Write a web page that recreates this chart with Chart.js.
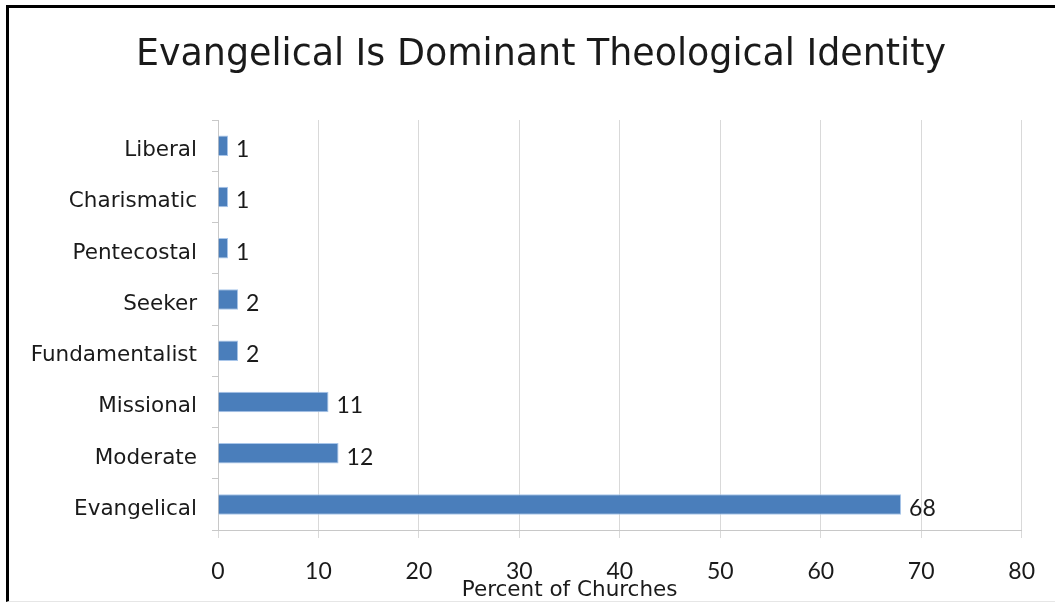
<!DOCTYPE html>
<html>
<head>
<meta charset="utf-8">
<script src="https://cdn.jsdelivr.net/npm/chart.js@4.4.1/dist/chart.umd.min.js"></script>
<style>
    html, body { margin: 0; padding: 0; background: #fff; }
    #wrap { position: relative; width: 1055px; height: 603px; }
    #frame {
        position: absolute; left: 6px; top: 5px; right: 0; bottom: 1px;
        border-left: 3px solid #000; border-top: 3px solid #000;
        border-bottom: 1px solid #e6e6e6;
        pointer-events: none;
    }
    canvas { position: absolute; left: 0; top: 0; }
</style>
</head>
<body>
<div id="wrap">
    <canvas id="chart" width="1055" height="603"></canvas>
    <div id="frame"></div>
</div>
<script>
// theological identity survey
const categories = ['Liberal', 'Charismatic', 'Pentecostal', 'Seeker', 'Fundamentalist', 'Missional', 'Moderate', 'Evangelical'];
const percents = [1, 1, 1, 2, 2, 11, 12, 68];
const xTicks = [0, 10, 20, 30, 40, 50, 60, 70, 80];

const chartTitle = 'Evangelical Is Dominant Theological Identity';
const xAxisTitle = 'Percent of Churches';

const numFont = "Lato, 'Open Sans', sans-serif";
const textFont = "'DejaVu Sans', Verdana, sans-serif";

const padLeft = 14;

// value next to each bar end
const valueLabels = {
    id: 'valueLabels',
    afterDatasetsDraw(chart) {
        const ctx = chart.ctx;
        const meta = chart.getDatasetMeta(0);
        ctx.save();
        ctx.font = '23px ' + numFont;
        ctx.fillStyle = '#1a1a1a';
        ctx.textAlign = 'left';
        ctx.textBaseline = 'middle';
        meta.data.forEach((bar, i) => {
            ctx.fillText(String(percents[i]), bar.x + 8, bar.y + 4);
        });
        ctx.restore();
    }
};

// heading and axis title, both placed by hand
const titles = {
    id: 'titles',
    afterDraw(chart) {
        const ctx = chart.ctx;
        ctx.save();
        ctx.fillStyle = '#1a1a1a';
        ctx.textAlign = 'center';
        ctx.textBaseline = 'middle';
        ctx.font = '36.4px ' + textFont;
        ctx.fillText(chartTitle, 541, 56);
        // sits under the 35 mark, a bit left of centre
        ctx.font = '21.5px ' + textFont;
        ctx.fillText(xAxisTitle, chart.scales.x.getPixelForValue(35), 590);
        ctx.restore();
    }
};

const ctx = document.getElementById('chart');

new Chart(ctx, {
    type: 'bar',
    data: {
        labels: categories,
        datasets: [{
            data: percents,
            backgroundColor: '#4a7ebb',
            borderColor: '#a9c6ea',
            borderWidth: 1,
            barPercentage: 0.4,
            categoryPercentage: 1.0
        }]
    },
    options: {
        indexAxis: 'y',
        responsive: false,
        animation: false,
        layout: { padding: { left: padLeft, right: 33, top: 120, bottom: 0 } },
        plugins: {
            legend: { display: false },
            tooltip: { enabled: false },
            title: { display: false }
        },
        scales: {
            x: {
                min: 0,
                max: 80,
                afterBuildTicks(scale) {
                    scale.ticks = xTicks.map(v => ({ value: v }));
                },
                afterFit(scale) {
                    scale.height = 603 - 530;
                },
                grid: {
                    color: '#d9d9d9',
                    tickLength: 8,
                    lineWidth: 1
                },
                border: { display: true, color: '#c8c8c8' },
                ticks: {
                    color: '#1a1a1a',
                    font: { family: numFont, size: 23 },
                    padding: 20
                }
            },
            y: {
                afterFit(scale) {
                    scale.width = 218 - padLeft;
                },
                grid: {
                    drawOnChartArea: false,
                    drawTicks: true,
                    tickLength: 6,
                    color: '#c8c8c8'
                },
                border: { display: true, color: '#c8c8c8' },
                ticks: {
                    color: '#1a1a1a',
                    font: { family: textFont, size: 21.5 },
                    padding: 15,
                    labelOffset: 5
                }
            }
        }
    },
    plugins: [valueLabels, titles]
});
</script>
</body>
</html>
